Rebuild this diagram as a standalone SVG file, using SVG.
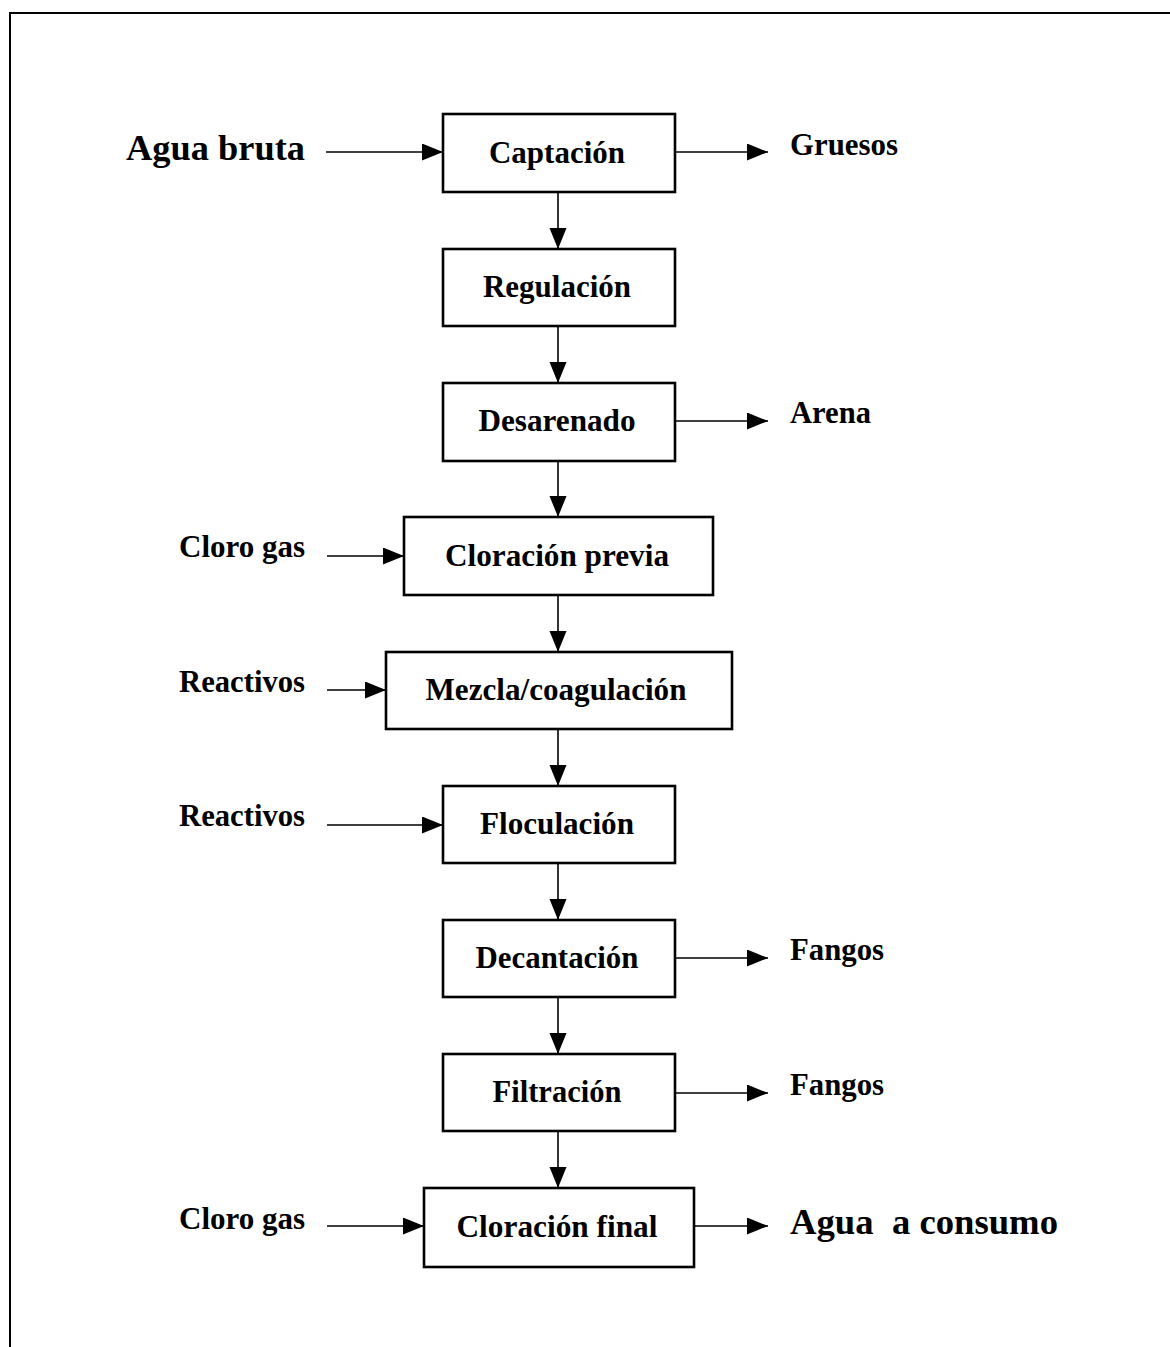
<svg xmlns="http://www.w3.org/2000/svg" width="1170" height="1347" viewBox="0 0 1170 1347">
  <style>
    .box { fill: #fff; stroke: #000; stroke-width: 2.6; }
    .lbl { font-family: "Liberation Serif", "Times New Roman", serif; font-weight: 700; fill: #000; }
    .node { font-size: 31px; text-anchor: middle; }
    .side { font-size: 30.5px; }
    .big { font-size: 36px; }
    .wire { stroke: #000; stroke-width: 1.6; fill: none; marker-end: url(#head); }
  </style>
  <defs>
    <marker id="head" markerUnits="userSpaceOnUse" markerWidth="22" markerHeight="18" refX="21" refY="8.5" orient="auto">
      <path d="M0,0 L21,8.5 L0,17 Z" fill="#000"/>
    </marker>
  </defs>

  <rect width="1170" height="1347" fill="#fff"/>
  <!-- page frame: top and left rules -->
  <path d="M10,1347 V13 H1170" fill="none" stroke="#000" stroke-width="2"/>

  <g id="connectors">
    <!-- main flow -->
    <line class="wire" x1="558" y1="192" x2="558" y2="249"/>
    <line class="wire" x1="558" y1="326" x2="558" y2="383"/>
    <line class="wire" x1="558" y1="461" x2="558" y2="517"/>
    <line class="wire" x1="558" y1="595" x2="558" y2="652"/>
    <line class="wire" x1="558" y1="729" x2="558" y2="786"/>
    <line class="wire" x1="558" y1="863" x2="558" y2="920"/>
    <line class="wire" x1="558" y1="997" x2="558" y2="1054"/>
    <line class="wire" x1="558" y1="1131" x2="558" y2="1188"/>
    <!-- inputs -->
    <line class="wire" x1="326" y1="152" x2="443" y2="152"/>
    <line class="wire" x1="327" y1="556" x2="404" y2="556"/>
    <line class="wire" x1="327" y1="690" x2="386" y2="690"/>
    <line class="wire" x1="327" y1="825" x2="443" y2="825"/>
    <line class="wire" x1="327" y1="1226" x2="424" y2="1226"/>
    <!-- outputs -->
    <line class="wire" x1="675" y1="152" x2="768" y2="152"/>
    <line class="wire" x1="675" y1="421" x2="768" y2="421"/>
    <line class="wire" x1="675" y1="958" x2="768" y2="958"/>
    <line class="wire" x1="675" y1="1093" x2="768" y2="1093"/>
    <line class="wire" x1="694" y1="1226" x2="768" y2="1226"/>
  </g>

  <g id="captacion">
    <rect class="box" x="443" y="114" width="232" height="78"/>
    <text class="lbl node" x="557" y="163" textLength="136" lengthAdjust="spacingAndGlyphs">Captación</text>
  </g>
  <g id="regulacion">
    <rect class="box" x="443" y="249" width="232" height="77"/>
    <text class="lbl node" x="557" y="297" textLength="148" lengthAdjust="spacingAndGlyphs">Regulación</text>
  </g>
  <g id="desarenado">
    <rect class="box" x="443" y="383" width="232" height="78"/>
    <text class="lbl node" x="557" y="431" textLength="157" lengthAdjust="spacingAndGlyphs">Desarenado</text>
  </g>
  <g id="cloracion-previa">
    <rect class="box" x="404" y="517" width="309" height="78"/>
    <text class="lbl node" x="557" y="566" textLength="224" lengthAdjust="spacingAndGlyphs">Cloración previa</text>
  </g>
  <g id="mezcla">
    <rect class="box" x="386" y="652" width="346" height="77"/>
    <text class="lbl node" x="556" y="700" textLength="261" lengthAdjust="spacingAndGlyphs">Mezcla/coagulación</text>
  </g>
  <g id="floculacion">
    <rect class="box" x="443" y="786" width="232" height="77"/>
    <text class="lbl node" x="557" y="834" textLength="154" lengthAdjust="spacingAndGlyphs">Floculación</text>
  </g>
  <g id="decantacion">
    <rect class="box" x="443" y="920" width="232" height="77"/>
    <text class="lbl node" x="557" y="968" textLength="163" lengthAdjust="spacingAndGlyphs">Decantación</text>
  </g>
  <g id="filtracion">
    <rect class="box" x="443" y="1054" width="232" height="77"/>
    <text class="lbl node" x="557" y="1102" textLength="129" lengthAdjust="spacingAndGlyphs">Filtración</text>
  </g>
  <g id="cloracion-final">
    <rect class="box" x="424" y="1188" width="270" height="79"/>
    <text class="lbl node" x="557" y="1237" textLength="201" lengthAdjust="spacingAndGlyphs">Cloración final</text>
  </g>

  <g id="inputs">
    <text class="lbl big" x="126" y="160" textLength="179" lengthAdjust="spacingAndGlyphs">Agua bruta</text>
    <text class="lbl side" x="179" y="557" textLength="126" lengthAdjust="spacingAndGlyphs">Cloro gas</text>
    <text class="lbl side" x="179" y="692" textLength="126" lengthAdjust="spacingAndGlyphs">Reactivos</text>
    <text class="lbl side" x="179" y="826" textLength="126" lengthAdjust="spacingAndGlyphs">Reactivos</text>
    <text class="lbl side" x="179" y="1229" textLength="126" lengthAdjust="spacingAndGlyphs">Cloro gas</text>
  </g>
  <g id="outputs">
    <text class="lbl side" x="790" y="155" textLength="108" lengthAdjust="spacingAndGlyphs">Gruesos</text>
    <text class="lbl side" x="790" y="423" textLength="81" lengthAdjust="spacingAndGlyphs">Arena</text>
    <text class="lbl side" x="790" y="960" textLength="94" lengthAdjust="spacingAndGlyphs">Fangos</text>
    <text class="lbl side" x="790" y="1095" textLength="94" lengthAdjust="spacingAndGlyphs">Fangos</text>
    <text class="lbl big" x="790" y="1234" textLength="268" lengthAdjust="spacingAndGlyphs" xml:space="preserve">Agua  a consumo</text>
  </g>
</svg>
